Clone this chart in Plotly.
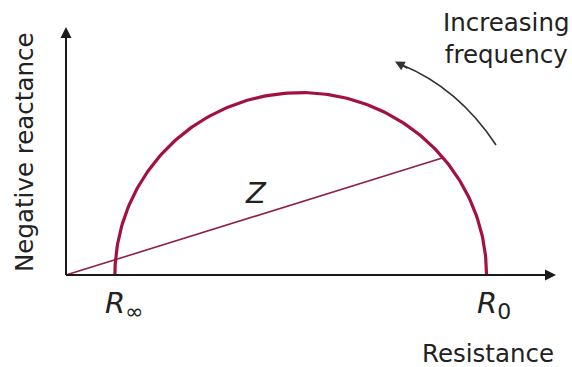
import numpy as np
import plotly.graph_objects as go

# Chart values (arbitrary resistance units)
R_inf = 1.0          # high-frequency resistance
R_0 = 8.6            # low-frequency resistance
z_angle_deg = 40.0   # phase position of the example impedance point Z
x_label = "Resistance"
y_label = "Negative reactance"
r_inf_label = "<i>R</i><sub><span style='font-size:22px'>∞</span></sub>"
r0_label = "<i>R</i><sub><span style='font-size:22px'>0</span></sub>"
z_label = "<i>Z</i>"
freq_label = "Increasing<br>frequency"

# Cole semicircle derived from R_inf and R_0
center = (R_inf + R_0) / 2
radius = (R_0 - R_inf) / 2
theta = np.linspace(0, np.pi, 200)
arc_x = center + radius * np.cos(theta)
arc_y = radius * np.sin(theta)

zx = center + radius * np.cos(np.radians(z_angle_deg))
zy = radius * np.sin(np.radians(z_angle_deg))

W, H = 572, 367
px_x = 48.9   # pixels per unit, x
px_y = 48.0   # pixels per unit, y
ox, oy = 66, 275  # origin in pixels
xr = [-ox / px_x, (W - ox) / px_x]
yr = [-(H - oy) / px_y, oy / px_y]

def dx(p):
    return (p - ox) / px_x

def dy(p):
    return (oy - p) / px_y

crimson = "#a3123f"
zcol = "#8e1f4e"
axis_col = "#1a1a1a"
font = "DejaVu Sans"
txt = "#222222"

fig = go.Figure()
fig.add_trace(go.Scatter(x=[0, zx], y=[0, zy], mode="lines",
                         line=dict(color=zcol, width=1.6), hoverinfo="skip"))
fig.add_trace(go.Scatter(x=arc_x, y=arc_y, mode="lines",
                         line=dict(color=crimson, width=3.2), hoverinfo="skip"))

annotations = []
# x axis arrow
annotations.append(dict(x=dx(556), y=0, ax=0, ay=0, xref="x", yref="y", axref="x", ayref="y",
                        text="", showarrow=True, arrowhead=2, arrowsize=1.1, arrowwidth=2,
                        arrowcolor=axis_col))
# y axis arrow
annotations.append(dict(x=0, y=dy(27), ax=0, ay=0, xref="x", yref="y", axref="x", ayref="y",
                        text="", showarrow=True, arrowhead=2, arrowsize=1.1, arrowwidth=2,
                        arrowcolor=axis_col))
# curved frequency arrow head
annotations.append(dict(x=dx(395), y=dy(61.5), ax=14, ay=7.5, xref="x", yref="y",
                        text="", showarrow=True, arrowhead=2, arrowsize=1.2, arrowwidth=1.6,
                        arrowcolor="#333333", standoff=0))

annotations.append(dict(x=R_inf, y=dy(305), xref="x", yref="y", text=r_inf_label, xshift=9,
                        showarrow=False, font=dict(family=font, size=29, color=txt)))
annotations.append(dict(x=R_0, y=dy(305), xref="x", yref="y", text=r0_label, xshift=7,
                        showarrow=False, font=dict(family=font, size=29, color=txt)))
annotations.append(dict(x=dx(256), y=dy(193), xref="x", yref="y", text=z_label,
                        showarrow=False, font=dict(family=font, size=29, color=txt)))
annotations.append(dict(x=dx(488), y=dy(353), xref="x", yref="y", text=x_label,
                        showarrow=False, font=dict(family=font, size=24.5, color=txt)))
annotations.append(dict(x=dx(24), y=dy(152), xref="x", yref="y", text=y_label, textangle=-90,
                        showarrow=False, font=dict(family=font, size=24.5, color=txt)))
annotations.append(dict(x=dx(506), y=dy(38.5), xref="x", yref="y", text=freq_label,
                        showarrow=False, align="center",
                        font=dict(family=font, size=24.5, color=txt)))

shapes = [
    dict(type="line", x0=0, y0=0, x1=dx(550), y1=0, xref="x", yref="y",
         line=dict(color=axis_col, width=2)),
    dict(type="line", x0=0, y0=0, x1=0, y1=dy(33), xref="x", yref="y",
         line=dict(color=axis_col, width=2)),
    dict(type="path", xref="x", yref="y",
         path=f"M {dx(496)},{dy(145)} Q {dx(458.5)},{dy(88)} {dx(401)},{dy(64.5)}",
         line=dict(color="#333333", width=1.6)),
]

fig.update_layout(
    width=W, height=H, margin=dict(l=0, r=0, t=0, b=0),
    paper_bgcolor="white", plot_bgcolor="white", showlegend=False,
    xaxis=dict(range=xr, visible=False, fixedrange=True),
    yaxis=dict(range=yr, visible=False, fixedrange=True),
    annotations=annotations, shapes=shapes,
)
fig.write_html("out.html", config={"displayModeBar": False},
               post_script="document.body.style.margin='0';document.body.style.overflow='hidden';")
